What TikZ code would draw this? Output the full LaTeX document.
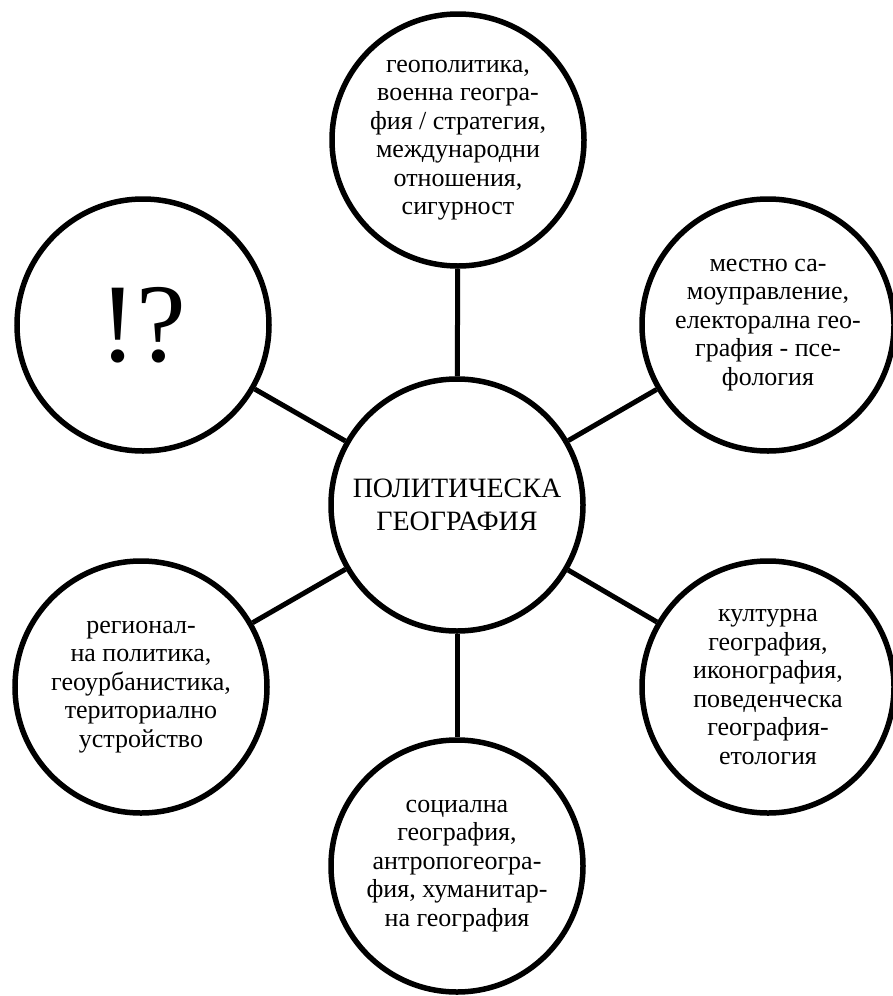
\documentclass[tikz,border=0pt]{standalone}
\usepackage{fontspec}
\setmainfont{Liberation Serif}

\begin{document}
\begin{tikzpicture}
[every node/.style={inner sep=0pt},
 topic/.style={circle, minimum size=252pt, line width=5.5pt, draw=black, fill=white, align=center, font=\fontsize{26pt}{28.5pt}\selectfont},
 link/.style={line width=5pt, color=black}]
\useasboundingbox (0pt, 0pt) rectangle (893pt, -996pt);
\node (center) [topic, font=\fontsize{28pt}{33pt}\selectfont] at (457pt, -505pt) {ПОЛИТИЧЕСКА\\ГЕОГРАФИЯ};
\node (top) [topic] at (458pt, -140pt) {геополитика,\\военна геогра-\\фия / стратегия,\\международни\\отношения,\\сигурност};
\node (topright) [topic] at (768pt, -325pt) {местно са-\\моуправление,\\електорална гео-\\графия - псе-\\фология};
\node (topleft) [topic, font=\fontsize{112pt}{112pt}\selectfont] at (143pt, -325pt) {!?};
\node (botright) [topic] at (768pt, -687pt) {културна\\география,\\иконография,\\поведенческа\\география-\\етология};
\node (botleft) [topic] at (141pt, -687pt) {регионал-\\на политика,\\геоурбанистика,\\териториално\\устройство};
\node (bottom) [topic] at (457pt, -866pt) {социална\\география,\\антропогеогра-\\фия, хуманитар-\\на география};
\draw [link] (center) -- (top);
\draw [link] (center) -- (topright);
\draw [link] (center) -- (topleft);
\draw [link] (center) -- (botright);
\draw [link] (center) -- (botleft);
\draw [link] (center) -- (bottom);
\end{tikzpicture}
\end{document}
